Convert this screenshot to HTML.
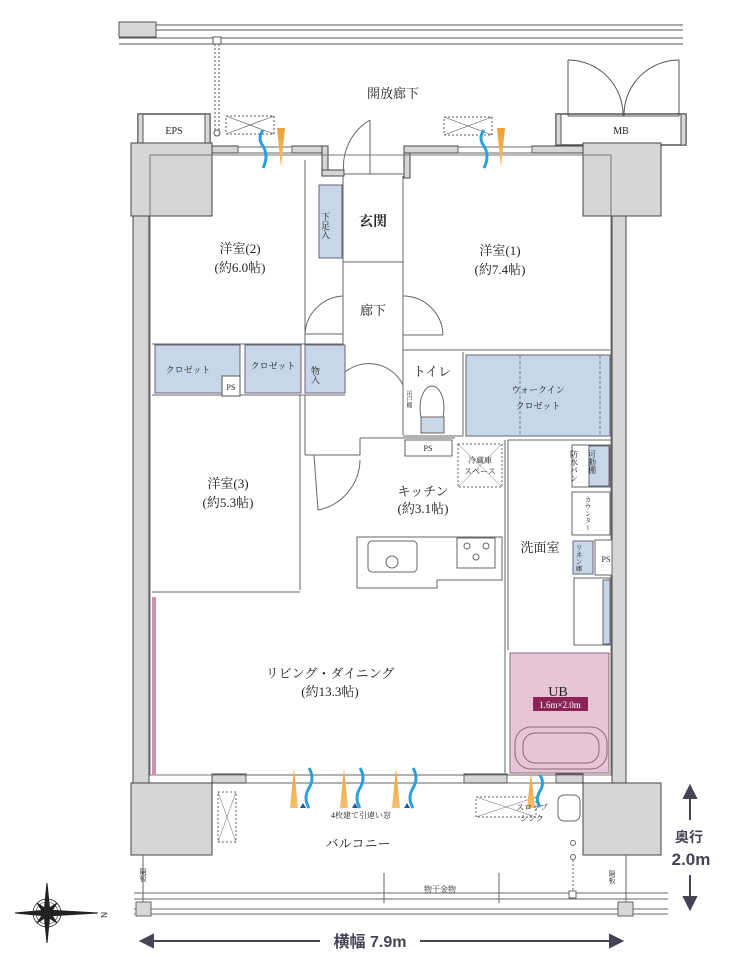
<!DOCTYPE html>
<html><head><meta charset="utf-8">
<style>
html,body{margin:0;padding:0;background:#fff;}
svg{display:block;}
text{font-family:"Liberation Serif","Noto Serif CJK SC","Noto Sans CJK JP",serif;fill:#222;}
.s{font-family:"Liberation Sans","Noto Sans CJK JP",sans-serif;}
</style></head><body>
<svg width="730" height="974" viewBox="0 0 730 974" xmlns="http://www.w3.org/2000/svg">
<defs>
<linearGradient id="or" x1="0" y1="0" x2="0" y2="1"><stop offset="0" stop-color="#f0a030"/><stop offset="1" stop-color="#f6c070"/></linearGradient>
</defs>
<g stroke="#555" stroke-width="1" fill="none">
<!-- top rail -->
<rect x="119" y="22" width="37" height="15" fill="#d8d8d8"/>
<line x1="156" y1="25" x2="683" y2="25"/><line x1="156" y1="30" x2="683" y2="30"/>
<line x1="119" y1="38" x2="683" y2="38"/><line x1="119" y1="44" x2="683" y2="44"/>
<rect x="213" y="37" width="8" height="7" fill="#fff"/>
<line x1="215" y1="44" x2="215" y2="130" stroke-dasharray="2,2"/><line x1="219" y1="44" x2="219" y2="130" stroke-dasharray="2,2"/>
<circle cx="217" cy="133" r="3"/>
<!-- EPS / MB -->
<rect x="138" y="114" width="72" height="30" fill="#fff" stroke-width="1.5"/>
<rect x="138" y="114" width="5" height="30" fill="#d8d8d8"/><rect x="205" y="114" width="5" height="30" fill="#d8d8d8"/>
<rect x="556" y="114" width="130" height="31" fill="#fff" stroke-width="1.5"/>
<rect x="556" y="114" width="5" height="31" fill="#d8d8d8"/><rect x="681" y="114" width="5" height="31" fill="#d8d8d8"/>
<line x1="568" y1="60" x2="568" y2="116"/><line x1="679" y1="60" x2="679" y2="116"/>
<path d="M568 60 A55 55 0 0 1 623 116"/><path d="M679 60 A55 55 0 0 0 624 116"/>
<line x1="568" y1="116" x2="679" y2="116"/>
<!-- ventilation boxes -->
<rect x="226" y="116" width="48" height="18" stroke-dasharray="2,2"/><path d="M226 116 L274 134 M274 116 L226 134" stroke-width=".6"/>
<rect x="444" y="117" width="48" height="18" stroke-dasharray="2,2"/><path d="M444 117 L492 135 M492 117 L444 135" stroke-width=".6"/>
</g>
<!-- gray structure columns -->
<g fill="#d6d6d6" stroke="#444" stroke-width="1">
<rect x="131" y="143" width="81" height="73"/>
<rect x="583" y="143" width="78" height="73"/>
<rect x="131" y="783" width="81" height="72"/>
<rect x="583" y="783" width="78" height="72"/>
<rect x="133" y="216" width="16" height="567"/>
<rect x="612" y="216" width="14" height="567"/>
<rect x="212" y="146" width="26" height="7"/><rect x="292" y="146" width="36" height="7"/>
<rect x="322" y="146" width="6" height="30"/><rect x="322" y="170" width="22" height="6"/>
<rect x="404" y="146" width="6" height="32"/><rect x="404" y="146" width="54" height="7"/>
<rect x="532" y="146" width="51" height="7"/>
<rect x="212" y="774" width="34" height="9"/><rect x="464" y="774" width="43" height="9"/>
<rect x="556" y="774" width="27" height="9"/>
</g>
<g stroke="#666" stroke-width="1" fill="none">
<!-- windows top -->
<rect x="238" y="147" width="54" height="6" fill="#fff"/>
<rect x="458" y="147" width="74" height="6" fill="#fff"/>
<!-- entry door -->
<line x1="344" y1="174" x2="404" y2="174"/>
<line x1="370" y1="120" x2="370" y2="174"/><path d="M370 120 A54 54 0 0 0 344 174"/>
<!-- inner outline -->
<rect x="150" y="155" width="461" height="620" stroke="#777"/>
<!-- partitions -->
<line x1="305" y1="160" x2="305" y2="345"/>
<line x1="343" y1="176" x2="343" y2="345"/>
<line x1="403" y1="176" x2="403" y2="435"/>
<line x1="343" y1="262" x2="403" y2="262"/>
<line x1="152" y1="344" x2="343" y2="344"/>
<line x1="403" y1="350" x2="610" y2="350"/>
<path d="M305 334 A40 40 0 0 1 343 296"/><line x1="305" y1="334" x2="343" y2="334"/>
<path d="M403 296 A40 40 0 0 1 443 335"/><line x1="403" y1="335" x2="443" y2="335"/>
<line x1="152" y1="395" x2="345" y2="395"/>
<line x1="300" y1="395" x2="300" y2="590"/>
<line x1="305" y1="395" x2="305" y2="455"/>
<line x1="305" y1="455" x2="360" y2="455"/><line x1="360" y1="455" x2="360" y2="438"/><line x1="360" y1="438" x2="455" y2="438"/>
<line x1="314" y1="455" x2="318" y2="510"/><path d="M318 510 A52 52 0 0 0 360 460"/>
<line x1="152" y1="592" x2="300" y2="592"/>
<line x1="505" y1="440" x2="505" y2="773"/><line x1="508" y1="440" x2="508" y2="650"/>
<line x1="508" y1="440" x2="612" y2="440"/>
<line x1="463" y1="352" x2="463" y2="436"/>
<line x1="403" y1="436" x2="463" y2="436"/>
<path d="M345 372 A38 38 0 0 1 403 385"/>
<!-- PS etc -->
<rect x="405" y="440" width="47" height="16" fill="#fff"/>
<rect x="458" y="444" width="44" height="43" stroke-dasharray="2,2"/><path d="M458 444 L502 487 M502 444 L458 487" stroke-width=".5"/>
<!-- island -->
<path d="M357 537 H502 V580 H437 V588 H357 Z" fill="#fff"/>
<rect x="368" y="541" width="49" height="31" rx="4"/><circle cx="392" cy="562" r="6"/>
<rect x="457" y="538" width="38" height="30"/>
<circle cx="467" cy="546" r="3"/><circle cx="486" cy="546" r="3"/><circle cx="476" cy="557" r="3"/>
<!-- washroom fixtures -->
<rect x="572" y="445" width="38" height="42" fill="#fff"/>
<rect x="572" y="492" width="38" height="43" fill="#fff"/>
<rect x="595" y="540" width="17" height="35" fill="#fff"/>
<rect x="574" y="578" width="36" height="67" fill="#fff"/>
<!-- toilet -->
<ellipse cx="432" cy="408" rx="12" ry="22" fill="#fff"/>
<rect x="421" y="417" width="23" height="16" fill="#c8d8ea"/>
<!-- balcony window -->
<rect x="246" y="775" width="218" height="8" fill="#fff"/>
<rect x="507" y="775" width="49" height="8" fill="#fff"/>
<!-- balcony items -->
<rect x="218" y="792" width="18" height="50" stroke-dasharray="2,2"/><path d="M218 792 L236 842 M236 792 L218 842" stroke-width=".5"/>
<rect x="476" y="797" width="60" height="20" stroke-dasharray="2,2"/><path d="M476 797 L536 817 M536 797 L476 817" stroke-width=".5"/>
<rect x="558" y="795" width="22" height="26" rx="6"/>
<circle cx="573" cy="843" r="2.5"/><circle cx="573" cy="857" r="2.5"/>
<line x1="573" y1="860" x2="573" y2="895" stroke-dasharray="2,2"/>
<!-- bottom rail -->
<line x1="134" y1="893" x2="668" y2="893"/><line x1="134" y1="899" x2="668" y2="899"/>
<line x1="134" y1="909" x2="668" y2="909"/><line x1="134" y1="914" x2="668" y2="914"/>
<line x1="384" y1="873" x2="384" y2="903"/><line x1="499" y1="873" x2="499" y2="903"/>
<line x1="143" y1="855" x2="143" y2="902"/><line x1="626" y1="855" x2="626" y2="902"/>
<rect x="136" y="902" width="15" height="14" fill="#d8d8d8"/>
<rect x="618" y="902" width="15" height="14" fill="#d8d8d8"/>
<rect x="569" y="891" width="7" height="7" fill="#fff"/>
</g>
<!-- blue storage -->
<g fill="#c7d6e8" stroke="#667" stroke-width="1">
<rect x="319" y="185" width="23" height="73"/>
<rect x="155" y="345" width="85" height="48"/>
<rect x="245" y="345" width="56" height="48"/>
<rect x="305" y="345" width="40" height="48"/>
<rect x="466" y="355" width="144" height="81"/>
<rect x="589" y="446" width="20" height="40"/>
<rect x="573" y="541" width="20" height="33"/>
<rect x="603" y="580" width="7" height="64"/>
</g>
<rect x="222" y="376" width="18" height="20" fill="#fff" stroke="#555"/>
<line x1="520" y1="356" x2="520" y2="435" stroke="#778" stroke-dasharray="3,2"/>
<line x1="600" y1="356" x2="600" y2="435" stroke="#778" stroke-dasharray="3,2"/>
<!-- UB -->
<rect x="510" y="653" width="99" height="120" fill="#e6c6d6" stroke="#8a6878"/>
<rect x="515" y="727" width="92" height="42" rx="16" fill="none" stroke="#8a6878"/>
<rect x="523" y="733" width="76" height="30" rx="12" fill="none" stroke="#8a6878"/>
<rect x="152" y="597" width="4" height="178" fill="#d090b0"/>
<rect x="533" y="697" width="55" height="14" fill="#8b2455"/>
<!-- airflow -->
<g>
<path d="M277 128 h8 l-4 40 z" fill="url(#or)"/><path d="M497 128 h8 l-4 40 z" fill="url(#or)"/>
<path d="M263 130 q-6 8 0 16 q6 10 0 22" stroke="#2aa0e0" stroke-width="3" fill="none"/>
<path d="M484 130 q-6 8 0 16 q6 10 0 22" stroke="#2aa0e0" stroke-width="3" fill="none"/>
<path d="M290 808 l4 -40 l4 40 z" fill="url(#or)"/><path d="M340 808 l4 -40 l4 40 z" fill="url(#or)"/><path d="M392 808 l4 -40 l4 40 z" fill="url(#or)"/>
<path d="M309 768 q6 10 0 20 q-6 10 0 20" stroke="#2aa0e0" stroke-width="3" fill="none"/>
<path d="M360 768 q6 10 0 20 q-6 10 0 20" stroke="#2aa0e0" stroke-width="3" fill="none"/>
<path d="M413 768 q6 10 0 20 q-6 10 0 20" stroke="#2aa0e0" stroke-width="3" fill="none"/>
<path d="M300 808 l3 -5 l3 5z M352 808 l3 -5 l3 5z M404 808 l3 -5 l3 5z" fill="#1a5a9a"/>
<path d="M527 808 l4 -35 l4 35 z" fill="url(#or)"/>
<path d="M540 775 q5 8 0 16 q-5 8 0 16" stroke="#2aa0e0" stroke-width="3" fill="none"/>
</g>
<!-- compass -->
<g stroke="#222" fill="#222">
<circle cx="47" cy="913" r="14" fill="none" stroke-width=".8"/><circle cx="47" cy="913" r="11" fill="none" stroke-width=".6"/>
<path d="M15 913 L47 910 L98 913 L47 916 Z"/>
<path d="M47 883 L50 913 L47 943 L44 913 Z"/>
<path d="M37 903 L49 911 L57 923 L45 915 Z"/><path d="M57 903 L49 915 L37 923 L45 911 Z"/>
</g>
<text x="102" y="917" font-size="8" class="s" transform="rotate(90 104 914)">N</text>
<!-- dimension arrows -->
<g stroke="#445" stroke-width="2" fill="#445">
<line x1="690" y1="795" x2="690" y2="820"/><path d="M684 798 L690 786 L696 798Z"/>
<line x1="690" y1="875" x2="690" y2="900"/><path d="M684 897 L690 909 L696 897Z"/>
<line x1="150" y1="941" x2="320" y2="941"/><path d="M153 935 L141 941 L153 947Z"/>
<line x1="420" y1="941" x2="612" y2="941"/><path d="M610 935 L622 941 L610 947Z"/>
</g>
<!-- labels -->
<g text-anchor="middle">
<text x="393" y="98" font-size="13">開放廊下</text>
<text x="174" y="134" font-size="10">EPS</text>
<text x="621" y="134" font-size="10">MB</text>
<text x="240" y="253" font-size="13">洋室(2)</text>
<text x="240" y="272" font-size="13">(約6.0帖)</text>
<text x="373" y="226" font-size="14" font-weight="bold">玄関</text>
<text x="500" y="255" font-size="13">洋室(1)</text>
<text x="500" y="274" font-size="13">(約7.4帖)</text>
<text x="373" y="315" font-size="13">廊下</text>
<text x="188" y="373" font-size="9">クロゼット</text>
<text x="273" y="369" font-size="9">クロゼット</text>
<text x="231" y="390" font-size="8">PS</text>
<text x="432" y="376" font-size="13">トイレ</text>
<text x="538" y="393" font-size="9">ウォークイン</text>
<text x="538" y="409" font-size="9">クロゼット</text>
<text x="428" y="451" font-size="8">PS</text>
<text x="480" y="463" font-size="8">冷蔵庫</text>
<text x="480" y="474" font-size="8">スペース</text>
<text x="228" y="488" font-size="13">洋室(3)</text>
<text x="228" y="507" font-size="13">(約5.3帖)</text>
<text x="423" y="496" font-size="13">キッチン</text>
<text x="423" y="513" font-size="13">(約3.1帖)</text>
<text x="540" y="552" font-size="13">洗面室</text>
<text x="606" y="562" font-size="8">PS</text>
<text x="330" y="678" font-size="13">リビング・ダイニング</text>
<text x="330" y="696" font-size="13">(約13.3帖)</text>
<text x="558" y="696" font-size="14">UB</text>
<text x="560" y="708" font-size="9" style="fill:#fff">1.6m×2.0m</text>
<text x="361" y="818" font-size="8">4枚建て引違い窓</text>
<text x="532" y="810" font-size="8">スロップ</text>
<text x="532" y="821" font-size="8">シンク</text>
<text x="358" y="848" font-size="13">バルコニー</text>
<text x="440" y="892" font-size="8">物干金物</text>
<text x="689" y="842" font-size="14" font-weight="bold" class="s" style="fill:#445">奥行</text>
<text x="691" y="865" font-size="17" font-weight="bold" class="s" style="fill:#445">2.0m</text>
<text x="370" y="947" font-size="16" font-weight="bold" class="s" style="fill:#445">横幅 7.9m</text>
</g>
<g font-size="9">
<text x="325" y="212" writing-mode="tb">下足入</text>
<text x="315" y="366" writing-mode="tb">物入</text>
<text x="408" y="390" font-size="6" writing-mode="tb">吊戸棚</text>
<text x="574" y="450" font-size="8" writing-mode="tb">防水パン</text>
<text x="592" y="450" font-size="8" writing-mode="tb">可動棚</text>
<text x="588" y="496" font-size="7" writing-mode="tb">カウンター</text>
<text x="579" y="544" font-size="7" writing-mode="tb">リネン庫</text>
<text x="143" y="868" font-size="7" writing-mode="tb">隔板</text>
<text x="612" y="870" font-size="7" writing-mode="tb">隔板</text>
</g>
</svg>
</body></html>
